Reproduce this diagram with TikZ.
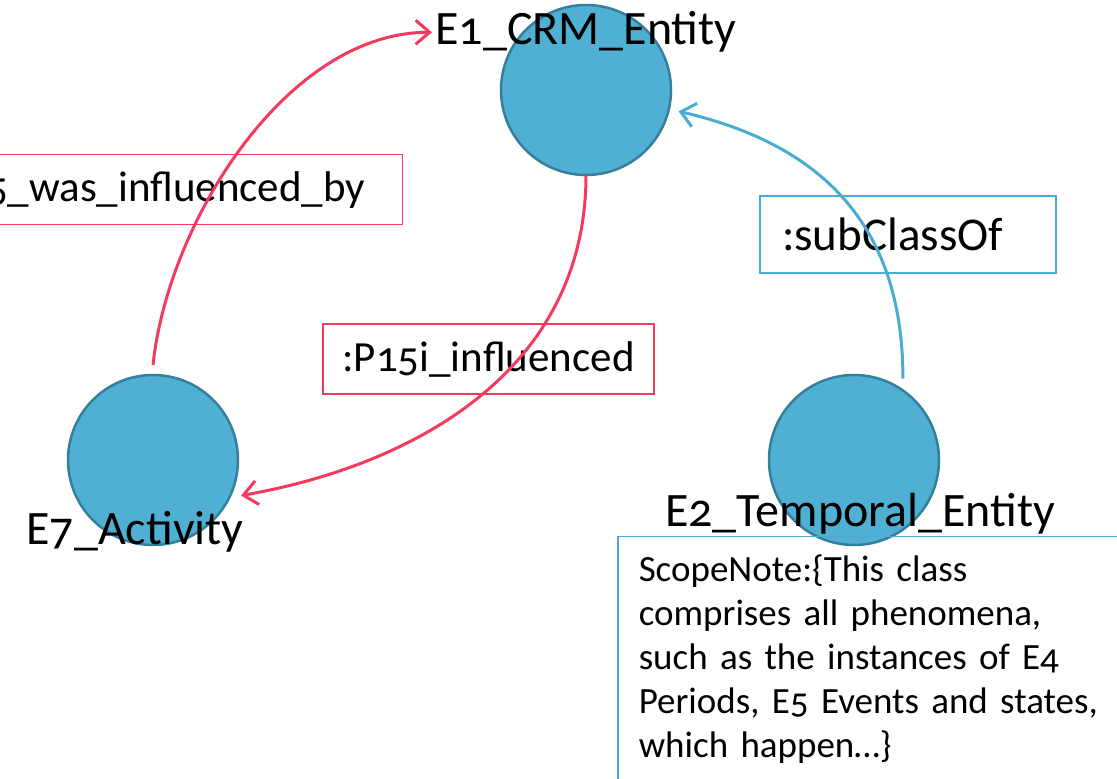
\documentclass[tikz,border=0pt]{standalone}
\usepackage{fontspec}
\setmainfont{Carlito}[Numbers=OldStyle]
\newfontfamily\notefam{Carlito}[Numbers=OldStyle,WordSpace=0.7]
\usetikzlibrary{arrows.meta,positioning}
\definecolor{crmfill}{RGB}{80,176,212}
\definecolor{crmedge}{RGB}{52,128,156}
\definecolor{crmred}{RGB}{246,58,94}
\definecolor{crmblue}{RGB}{75,172,210}
\newcommand\notefont{\notefam\fontsize{37}{44}\selectfont}

\begin{document}
\begin{tikzpicture}[x=1pt,y=1pt,
  cls/.style={circle,draw=crmedge,line width=2.5pt,fill=crmfill,minimum size=170pt,inner sep=0pt,outer sep=10pt},
  lab/.style={anchor=base,font=\fontsize{48}{54}\selectfont},
  redbox/.style={draw=crmred,line width=1.5pt,font=\fontsize{43}{50}\selectfont,minimum height=70pt},
  bluebox/.style={draw=crmblue,line width=1.5pt,font=\fontsize{47}{54}\selectfont},
  redarc/.style={crmred,line width=3pt,-{Straight Barb[length=14pt,width=24pt]}},
  bluearc/.style={crmblue,line width=3pt,-{Straight Barb[length=14pt,width=24pt]}}]
  \useasboundingbox (0,0) rectangle (1117,779);
  \node[cls] (e1) at (586,689) {};
  \node[cls] (e7) at (153,319) {};
  \node[cls] (e2) at (854,319) {};
  \node[lab] (e1lab) at (586,734) {E1\_CRM\_Entity};
  \node[lab] (e7lab) at (135,234) {E7\_Activity};
  \node[lab] (e2lab) at (860,252) {E2\_Temporal\_Entity};
  \node[redbox,anchor=north east,text width=520pt,align=right,inner xsep=37pt] (p15) at (403,625) {:P15\_was\_influenced\_by};
  \node[redbox,minimum width=331pt] (p15i) at (488.5,420) {:P15i\_influenced};
  \node[bluebox,text width=252pt,align=left,inner xsep=22pt,minimum height=77pt] (sub) at (908,544.5) {:subClassOf};
  \node[draw=crmblue,line width=1.5pt,anchor=north west,text width=520pt,align=left,inner xsep=21pt,inner ysep=18pt,font=\notefont] (note) at (617,243)
    {ScopeNote:\{This class\\comprises all phenomena,\\such as the instances of E4\\Periods, E5 Events and states,\\which happen…\}};
  \draw[redarc] (e7.north) to[out=84,in=180,looseness=0.85] (e1lab.west);
  \draw[redarc,shorten <=-10pt] (e1.south) to[out=-90,in=10] (e7.-22);
  \draw[bluearc] (e2.59) to[out=90,in=-13,looseness=1.1] (e1.-13);
\end{tikzpicture}
\end{document}
